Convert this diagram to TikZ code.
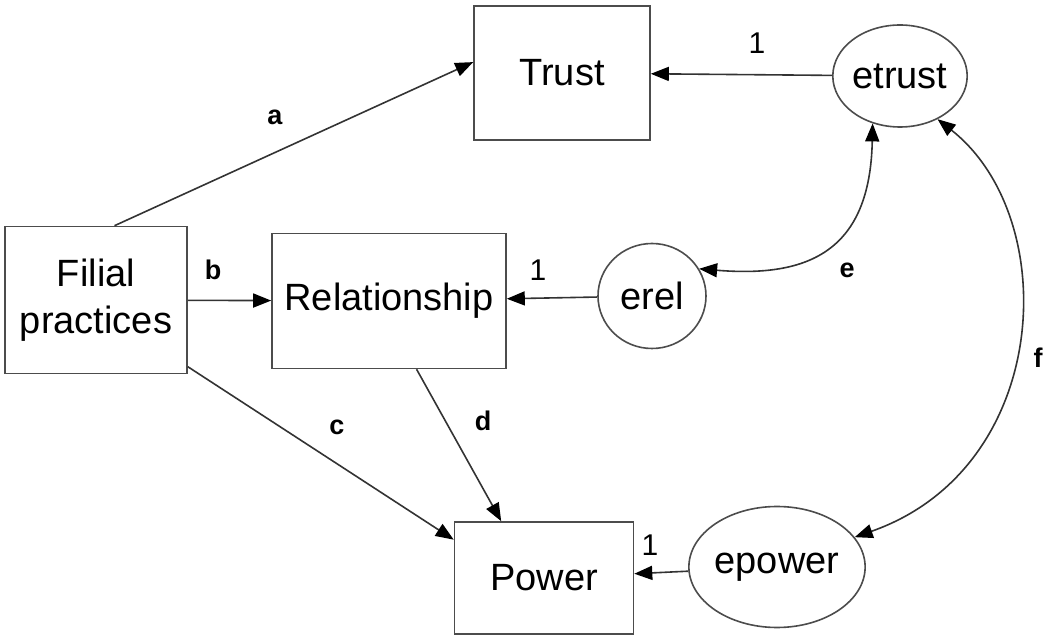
\documentclass[tikz,border=0pt]{standalone}
\usepackage{fontspec}
\setmainfont{Liberation Sans}
\usetikzlibrary{arrows.meta,shapes.geometric}

\tikzset{
  box/.style={draw=black!70, line width=0.8pt, rectangle, font=\fontsize{19}{23.5}\selectfont, align=center},
  err/.style={draw=black!70, line width=0.8pt, ellipse, inner sep=0pt, font=\fontsize{19}{23}\selectfont},
  path/.style={draw=black!80, line width=0.8pt, -{Triangle[length=9pt,width=7pt,color=black]}},
  cov/.style={draw=black!80, line width=0.8pt, {Triangle[length=9pt,width=7pt,color=black]}-{Triangle[length=9pt,width=7pt,color=black]}},
  lbl/.style={font=\fontsize{13.5}{15}\selectfont\bfseries},
  one/.style={font=\fontsize{15}{17}\selectfont}
}

\begin{document}
\begin{tikzpicture}[x=0.5pt, y=-0.5pt]
      \useasboundingbox (0,0) rectangle (1050,641);

      % Observed variables
      \node[box, minimum width=91pt, minimum height=73.5pt] (filial) at (96,300) {Filial\\practices};
      \node[box, minimum width=88pt, minimum height=67pt] (trust) at (562,73) {Trust};
      \node[box, minimum width=117pt, minimum height=67.5pt] (rel) at (389,301) {Relationship};
      \node[box, minimum width=89.5pt, minimum height=56pt] (power) at (544,578) {Power};

      % Error terms
      \node[err, minimum width=62.5pt, minimum height=51pt] (etrust) at (900,76) {etrust};
      \node[err, minimum width=54pt, minimum height=52.5pt] (erel) at (652,296) {erel};
      \node[err, minimum width=75.5pt, minimum height=60.5pt] (epower) at (777,567) {epower};

      % Paths a--d
      \draw[path] (filial.76) -- (trust.173);
      \draw[path] (filial) -- (rel);
      \draw[path] (filial.-36) -- (power.157);
      \draw[path] (rel.-68) -- (power.127);

      % Error paths (fixed to 1)
      \draw[path] (etrust) -- (trust);
      \draw[path] (erel) -- (rel);
      \draw[path] (epower) -- (power);

      % Covariances e, f
      \draw[cov] (etrust.240) .. controls (870,250) and (810,278) .. (erel.30);
      \draw[cov] (etrust.-49) .. controls (1063,218) and (1052,468) .. (epower.21);

      % Labels
      \node[lbl] (la) at (275,117) {a};
      \node[lbl] (lb) at (213,270) {b};
      \node[lbl] (lc) at (337,427) {c};
      \node[lbl] (ld) at (483,421) {d};
      \node[lbl] (le) at (847,270) {e};
      \node[lbl] (lf) at (1038,358) {f};
      \node[one] (l1t) at (757,43) {1};
      \node[one] (l1r) at (538,270) {1};
      \node[one] (l1p) at (650,545) {1};
    \end{tikzpicture}
\end{document}
